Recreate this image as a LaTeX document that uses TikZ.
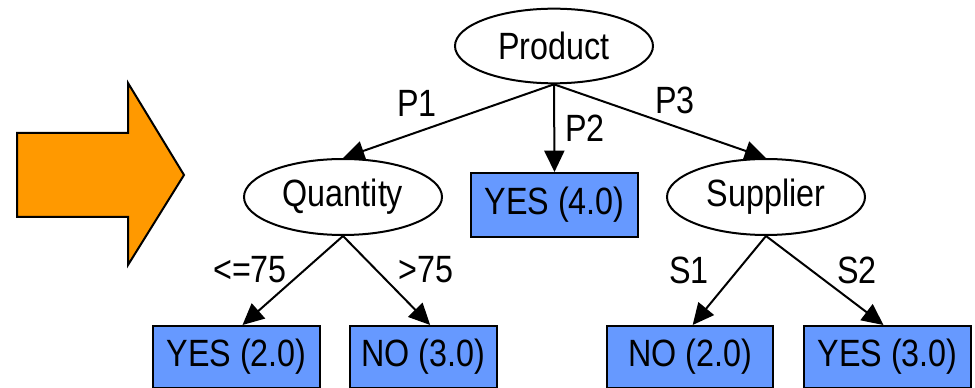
\documentclass[tikz,border=0pt]{standalone}
\usepackage{fontspec}
\setmainfont{Liberation Sans}[FakeStretch=0.85]
\usetikzlibrary{shapes.geometric,arrows.meta}
\definecolor{leafblue}{HTML}{6699FF}
\definecolor{bigorange}{HTML}{FF9900}
\begin{document}
\begin{tikzpicture}[x=0.75pt,y=-0.75pt,
  every node/.style={font=\fontsize{28.5}{31}\selectfont},
  decision/.style={ellipse,draw,line width=1.5pt,fill=white,inner sep=0pt},
  leaf/.style={rectangle,draw,line width=1.5pt,fill=leafblue,inner sep=0pt},
  branch/.style={line width=1.5pt,-{Triangle[length=16pt,width=15pt]}},
  lbl/.style={inner sep=0pt}]
\useasboundingbox (0,0) rectangle (975,388);
% big arrow
\draw[line width=1.5pt,fill=bigorange,line join=miter]
  (17,133) -- (128,133) -- (128,83) -- (184,175) -- (128,265) -- (128,217) -- (17,217) -- cycle;
% nodes
\node[decision,minimum width=148.5pt,minimum height=56pt] (prod) at (554,46) {Product};
\node[decision,minimum width=148.5pt,minimum height=57pt] (qty) at (343,197) {Quantity};
\node[decision,minimum width=148.5pt,minimum height=57pt] (sup) at (766,197) {Supplier};
\node[leaf,minimum width=125pt,minimum height=48pt] (y4) at (554.5,205) {YES (4.0)};
\node[leaf,minimum width=125pt,minimum height=46.5pt] (y2) at (236.5,357) {YES (2.0)};
\node[leaf,minimum width=110pt,minimum height=46.5pt] (n3) at (423.5,357) {NO (3.0)};
\node[leaf,minimum width=124.5pt,minimum height=46.5pt] (n2) at (690,357) {NO (2.0)};
\node[leaf,minimum width=125pt,minimum height=46.5pt] (y3) at (887.5,357) {YES (3.0)};
% edges
\draw[branch] (prod.south) -- (qty.north);
\draw[branch] (prod.south) -- (y4.north);
\draw[branch] (prod.south) -- (sup.north);
\draw[branch] (qty.south) -- ([xshift=4.5pt]y2.north);
\draw[branch] (qty.south) -- ([xshift=5pt]n3.north);
\draw[branch] (sup.south) -- ([xshift=2pt]n2.north);
\draw[branch] (sup.south) -- ([xshift=-3pt]y3.north);
% labels
\node[lbl] (lp1) at (417,103) {P1};
\node[lbl] (lp2) at (585,128) {P2};
\node[lbl] (lp3) at (675,100) {P3};
\node[lbl] (lq1) at (250,270) {<=75};
\node[lbl] (lq2) at (426,270) {>75};
\node[lbl] (ls1) at (689,270) {S1};
\node[lbl] (ls2) at (857,270) {S2};
\end{tikzpicture}
\end{document}
